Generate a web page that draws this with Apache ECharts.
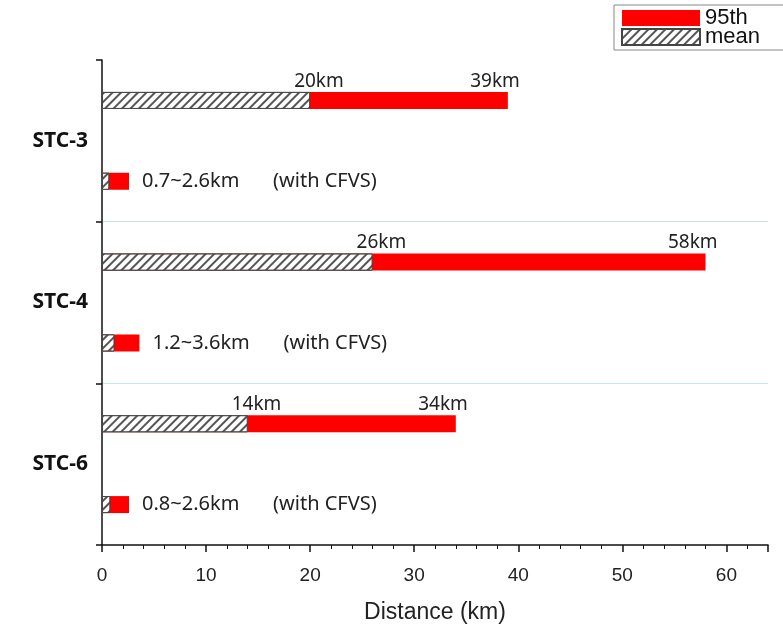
<!DOCTYPE html>
<html>
<head>
<meta charset="utf-8">
<script src="https://cdn.jsdelivr.net/npm/echarts@6/dist/echarts.min.js"></script>
<style>
  html, body { margin: 0; padding: 0; background: #fff; }
  #chart { width: 783px; height: 626px; }
</style>
</head>
<body>
<div id="chart"></div>
<script>
// 分组（y 轴标签）
const groups = ['STC-3', 'STC-4', 'STC-6']
// 每组两行：全体 / with CFVS
const rows = ['STC-3', 'STC-3 CFVS', 'STC-4', 'STC-4 CFVS', 'STC-6', 'STC-6 CFVS']
const meanKm = [20, 0.7, 26, 1.2, 14, 0.8]
const p95Km = [39, 2.6, 58, 3.6, 34, 2.6]
const withCfvs = [false, true, false, true, false, true]
const xTicks = [0, 10, 20, 30, 40, 50, 60]

const chart = echarts.init(document.getElementById('chart'))

// 斜线填充（mean）
const hatch = {
  symbol: 'rect',
  symbolSize: 1,
  color: '#555',
  backgroundColor: '#fff',
  dashArrayX: [1, 0],
  dashArrayY: [1.4, 3.2],
  rotation: -Math.PI / 4
}

const textFont = 'Noto Sans'
const axisFont = 'Liberation Sans'

const option = {
  animation: false,
  legend: {
    orient: 'vertical',
    left: 614,
    top: 5,
    padding: [2, 30, 2, 7],
    itemWidth: 78,
    itemHeight: 16,
    itemGap: -3,
    icon: 'rect',
    borderColor: '#888',
    borderWidth: 1,
    textStyle: { fontFamily: axisFont, fontSize: 22, color: '#111' },
    data: ['95th', 'mean']
  },
  grid: { left: 102, right: 15, top: 60, bottom: 81, outerBoundsMode: 'none' },
  xAxis: {
    type: 'value',
    min: 0,
    max: 64,
    interval: 10,
    name: 'Distance (km)',
    nameLocation: 'middle',
    nameGap: 56,
    nameTextStyle: { fontFamily: axisFont, fontSize: 23, color: '#222' },
    axisLine: { show: true, lineStyle: { color: '#111', width: 1.5 } },
    axisTick: { show: true, length: 7, lineStyle: { color: '#111', width: 1.5 } },
    minorTick: { show: true, splitNumber: 5, length: 4, lineStyle: { color: '#111' } },
    axisLabel: {
      fontFamily: axisFont, fontSize: 19, color: '#222', margin: 21,
      formatter: v => (xTicks.includes(v) ? String(v) : '')
    },
    splitLine: { show: false }
  },
  yAxis: [
    {
      type: 'category',
      data: groups,
      inverse: true,
      axisLine: { show: true, lineStyle: { color: '#111', width: 1.5 } },
      axisTick: { show: true, length: 6, lineStyle: { color: '#111', width: 1.5 } },
      axisLabel: { fontFamily: textFont, fontSize: 21, fontWeight: 'bold', color: '#111', margin: 14 },
      splitLine: {
        show: true,
        showMinLine: false,
        showMaxLine: false,
        lineStyle: { color: '#c8e4e9', width: 1 }
      }
    },
    {
      type: 'category',
      data: rows,
      inverse: true,
      show: false
    }
  ],
  series: [
    {
      name: '95th',
      type: 'bar',
      yAxisIndex: 1,
      barWidth: 17,
      itemStyle: { color: '#ff0000' },
      data: p95Km.map((v, i) => ({
        value: v,
        label: withCfvs[i]
          ? {
              show: true,
              position: 'right',
              distance: 13,
              formatter: '{a|' + meanKm[i] + '~' + v + 'km}{b|(with CFVS)}',
              rich: {
                a: { fontFamily: textFont, fontSize: 20, color: '#222', width: 131 },
                b: { fontFamily: textFont, fontSize: 20, color: '#222' }
              }
            }
          : {
              show: true,
              position: ['100%', 0],
              align: 'right',
              verticalAlign: 'bottom',
              offset: [12, -1],
              formatter: v + 'km',
              fontFamily: textFont,
              fontSize: 19,
              color: '#222'
            }
      }))
    },
    {
      name: 'mean',
      type: 'bar',
      yAxisIndex: 1,
      barWidth: 17,
      barGap: '-100%',
      itemStyle: { color: '#fff', borderColor: '#444', borderWidth: 1, decal: hatch },
      data: meanKm.map((v, i) => ({
        value: v,
        label: withCfvs[i]
          ? { show: false }
          : {
              show: true,
              position: ['100%', 0],
              align: 'left',
              verticalAlign: 'bottom',
              offset: [-16, -1],
              formatter: v + 'km',
              fontFamily: textFont,
              fontSize: 19,
              color: '#222'
            }
      }))
    }
  ]
}

chart.setOption(option)
</script>
</body>
</html>
